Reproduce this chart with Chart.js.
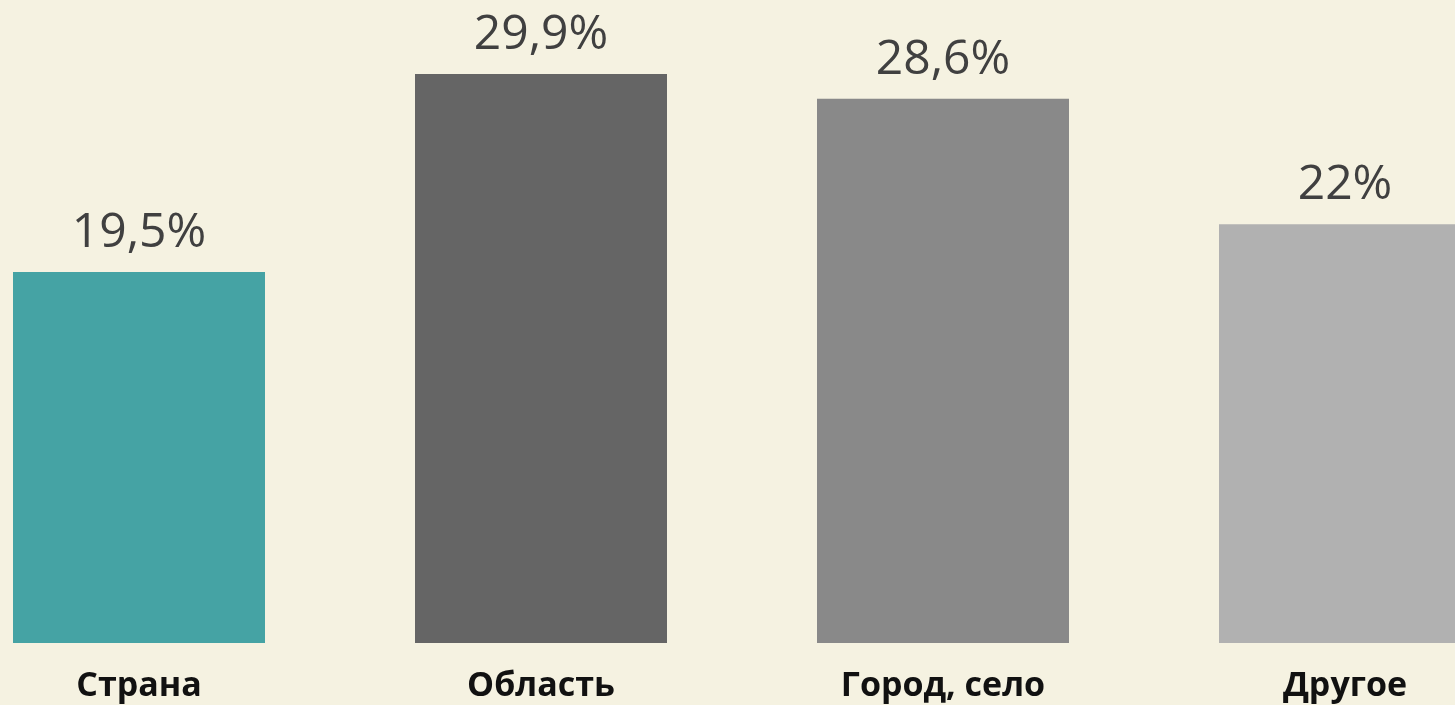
<!DOCTYPE html>
<html>
<head>
<meta charset="utf-8">
<script src="https://cdn.jsdelivr.net/npm/chart.js@4"></script>
<style>
  html, body { margin: 0; padding: 0; background: #F5F2E1; overflow: hidden; width: 1455px; height: 705px; }
  #wrap { position: absolute; left: -62px; top: 0; width: 1608px; height: 705px; }
</style>
</head>
<body>
<div id="wrap"><canvas id="c"></canvas></div>
<script>
const categories = ['Страна', 'Область', 'Город, село', 'Другое'];
const values = [19.5, 29.9, 28.6, 22];
const valueLabels = ['19,5%', '29,9%', '28,6%', '22%'];
const barColors = ['#45A3A4', '#656565', '#898989', '#B1B1B1'];

const valueLabelPlugin = {
  id: 'valueLabels',
  afterDatasetsDraw(chart) {
    const ctx = chart.ctx;
    const meta = chart.getDatasetMeta(0);
    ctx.save();
    ctx.font = '48px "Open Sans"';
    ctx.fillStyle = '#404040';
    ctx.textAlign = 'center';
    ctx.textBaseline = 'alphabetic';
    meta.data.forEach((bar, i) => {
      ctx.fillText(valueLabels[i], bar.x, bar.y - 25);
    });
    ctx.restore();
  }
};

new Chart(document.getElementById('c'), {
  type: 'bar',
  data: {
    labels: categories,
    datasets: [{
      data: values,
      backgroundColor: barColors,
      borderWidth: 0,
      categoryPercentage: 1,
      barPercentage: 252 / 402
    }]
  },
  options: {
    responsive: true,
    maintainAspectRatio: false,
    animation: false,
    layout: { padding: 0 },
    plugins: { legend: { display: false }, tooltip: { enabled: false } },
    scales: {
      y: { display: false, min: 0, max: 33.79 },
      x: {
        grid: { display: false, drawTicks: false },
        border: { display: false },
        ticks: {
          color: '#111111',
          font: { family: '"Open Sans"', size: 34, weight: 'bold' },
          padding: 23,
          maxRotation: 0,
          autoSkip: false
        },
        afterFit(scale) { scale.height = 62; }
      }
    }
  },
  plugins: [valueLabelPlugin]
});
</script>
</body>
</html>
